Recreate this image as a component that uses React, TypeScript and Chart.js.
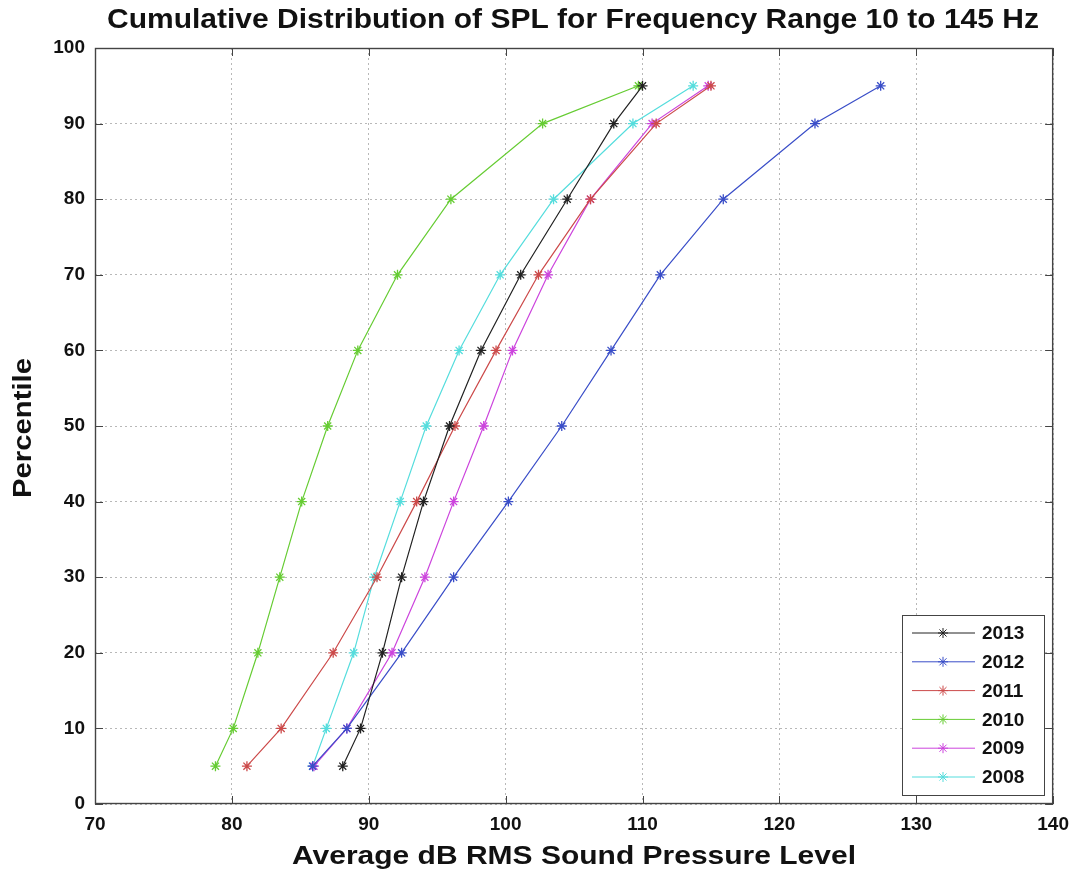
import React, { useEffect, useRef } from "react";
import { Chart, registerables } from "chart.js";
Chart.register(...registerables);

const percentiles = [5, 10, 20, 30, 40, 50, 60, 70, 80, 90, 95];
const years = ["2013", "2012", "2011", "2010", "2009", "2008"];
const spl2013 = [88.1, 89.4, 91.0, 92.4, 94.0, 95.9, 98.2, 101.1, 104.5, 107.9, 110.0];
const spl2012 = [85.9, 88.4, 92.4, 96.2, 100.2, 104.1, 107.7, 111.3, 115.9, 122.6, 127.4];
const spl2011 = [81.1, 83.6, 87.4, 90.6, 93.5, 96.3, 99.3, 102.4, 106.2, 111.0, 115.0];
const spl2010 = [78.8, 80.1, 81.9, 83.5, 85.1, 87.0, 89.2, 92.1, 96.0, 102.7, 109.7];
const spl2009 = [86.0, 88.4, 91.7, 94.1, 96.2, 98.4, 100.5, 103.1, 106.2, 110.7, 114.8];
const spl2008 = [85.9, 86.9, 88.9, 90.4, 92.3, 94.2, 96.6, 99.6, 103.5, 109.3, 113.7];
const seriesValues = [spl2013, spl2012, spl2011, spl2010, spl2009, spl2008];
const colors = ["#222222", "#3a4ec8", "#cc4a4a", "#66cc33", "#cc44dd", "#55dddd"];

const titleText = "Cumulative Distribution of SPL for Frequency Range 10 to 145 Hz";
const xTitle = "Average dB RMS Sound Pressure Level";
const yTitle = "Percentile";
const FONT = "'Liberation Sans', Arial, Helvetica, sans-serif";

function fitText(ctx: CanvasRenderingContext2D, text: string, x: number, y: number, size: number, width: number, rot = 0) {
  ctx.save();
  ctx.font = `bold ${size}px ${FONT}`;
  const w = ctx.measureText(text).width;
  ctx.translate(x, y);
  if (rot) ctx.rotate(rot);
  ctx.scale(width / w, 1);
  ctx.textAlign = "center";
  ctx.textBaseline = "middle";
  ctx.fillStyle = "#111";
  ctx.fillText(text, 0, 0);
  ctx.restore();
}

const decorPlugin = {
  id: "decor",
  afterDraw(chart: any) {
    const ctx: CanvasRenderingContext2D = chart.ctx;
    const { left, right, top, bottom } = chart.chartArea;
    const xs = chart.scales.x;
    const ys = chart.scales.y;
    ctx.save();
    ctx.strokeStyle = "#444";
    ctx.lineWidth = 1.4;
    ctx.strokeRect(left + 0.5, top + 0.5, right - left - 1, bottom - top - 1);
    ctx.lineWidth = 1;
    ctx.beginPath();
    xs.ticks.forEach((t: any) => {
      const px = Math.round(xs.getPixelForValue(t.value)) + 0.5;
      ctx.moveTo(px, bottom); ctx.lineTo(px, bottom - 8);
      ctx.moveTo(px, top); ctx.lineTo(px, top + 8);
    });
    ys.ticks.forEach((t: any) => {
      const py = Math.round(ys.getPixelForValue(t.value)) + 0.5;
      ctx.moveTo(left, py); ctx.lineTo(left + 8, py);
      ctx.moveTo(right, py); ctx.lineTo(right - 8, py);
    });
    ctx.stroke();
    ctx.restore();

    fitText(ctx, titleText, 573, 20, 28, 932);
    fitText(ctx, xTitle, 574, 857, 26, 564);
    fitText(ctx, yTitle, 24, 428, 26, 140, -Math.PI / 2);

    const lx = 902, ly = 615, lw = 142, lh = 180;
    ctx.save();
    ctx.fillStyle = "#fff";
    ctx.fillRect(lx, ly, lw, lh);
    ctx.strokeStyle = "#444";
    ctx.lineWidth = 1;
    ctx.strokeRect(lx + 0.5, ly + 0.5, lw, lh);
    chart.data.datasets.forEach((ds: any, i: number) => {
      const y = 633 + i * 28.8;
      ctx.strokeStyle = ds.borderColor;
      ctx.lineWidth = 1;
      ctx.beginPath();
      ctx.moveTo(912, y);
      ctx.lineTo(975, y);
      ctx.stroke();
      const r = 5;
      ctx.beginPath();
      ctx.moveTo(943 - r, y); ctx.lineTo(943 + r, y);
      ctx.moveTo(943, y - r); ctx.lineTo(943, y + r);
      const d = r * 0.707;
      ctx.moveTo(943 - d, y - d); ctx.lineTo(943 + d, y + d);
      ctx.moveTo(943 - d, y + d); ctx.lineTo(943 + d, y - d);
      ctx.stroke();
      ctx.font = `bold 19px ${FONT}`;
      ctx.fillStyle = "#111";
      ctx.textAlign = "left";
      ctx.textBaseline = "middle";
      ctx.fillText(ds.label, 982, y + 1);
    });
    ctx.restore();
  },
};

export default function App() {
  const ref = useRef<HTMLCanvasElement>(null);
  useEffect(() => {
    document.body.style.margin = "0";
    const canvas = ref.current!;
    const datasets = years.map((yr, i) => ({
      label: yr,
      data: seriesValues[i].map((v, j) => ({ x: v, y: percentiles[j] })),
      borderColor: colors[i],
      backgroundColor: colors[i],
      borderWidth: 1.2,
      pointStyle: "star" as const,
      pointRadius: 5,
      pointBorderWidth: 1.3,
      pointBorderColor: colors[i],
      showLine: true,
      tension: 0,
      fill: false,
    }));
    const chart = new Chart(canvas, {
      type: "scatter",
      data: { datasets },
      options: {
        animation: false,
        responsive: false,
        devicePixelRatio: 1,
        layout: { padding: { top: 48, right: 24, bottom: 0, left: 0 } },
        plugins: { legend: { display: false }, tooltip: { enabled: false }, title: { display: false } },
        scales: {
          x: {
            type: "linear",
            min: 70,
            max: 140,
            ticks: { stepSize: 10, padding: 9, color: "#111", font: { family: FONT, size: 19, weight: "bold" } },
            grid: { color: "#b8b8b8", drawTicks: false, lineWidth: 1 },
            border: { display: false, dash: [2, 3] },
            afterFit: (s: any) => { s.height = 80; },
          },
          y: {
            type: "linear",
            min: 0,
            max: 100,
            ticks: { stepSize: 10, padding: 10, color: "#111", font: { family: FONT, size: 19, weight: "bold" } },
            grid: { color: "#b8b8b8", drawTicks: false, lineWidth: 1 },
            border: { display: false, dash: [2, 3] },
            afterFit: (s: any) => { s.width = 95; },
          },
        },
      },
      plugins: [decorPlugin],
    });
    return () => chart.destroy();
  }, []);
  return (
    <div style={{ width: 1078, height: 884 }}>
      <canvas ref={ref} width={1078} height={884} style={{ display: "block" }} />
    </div>
  );
}
